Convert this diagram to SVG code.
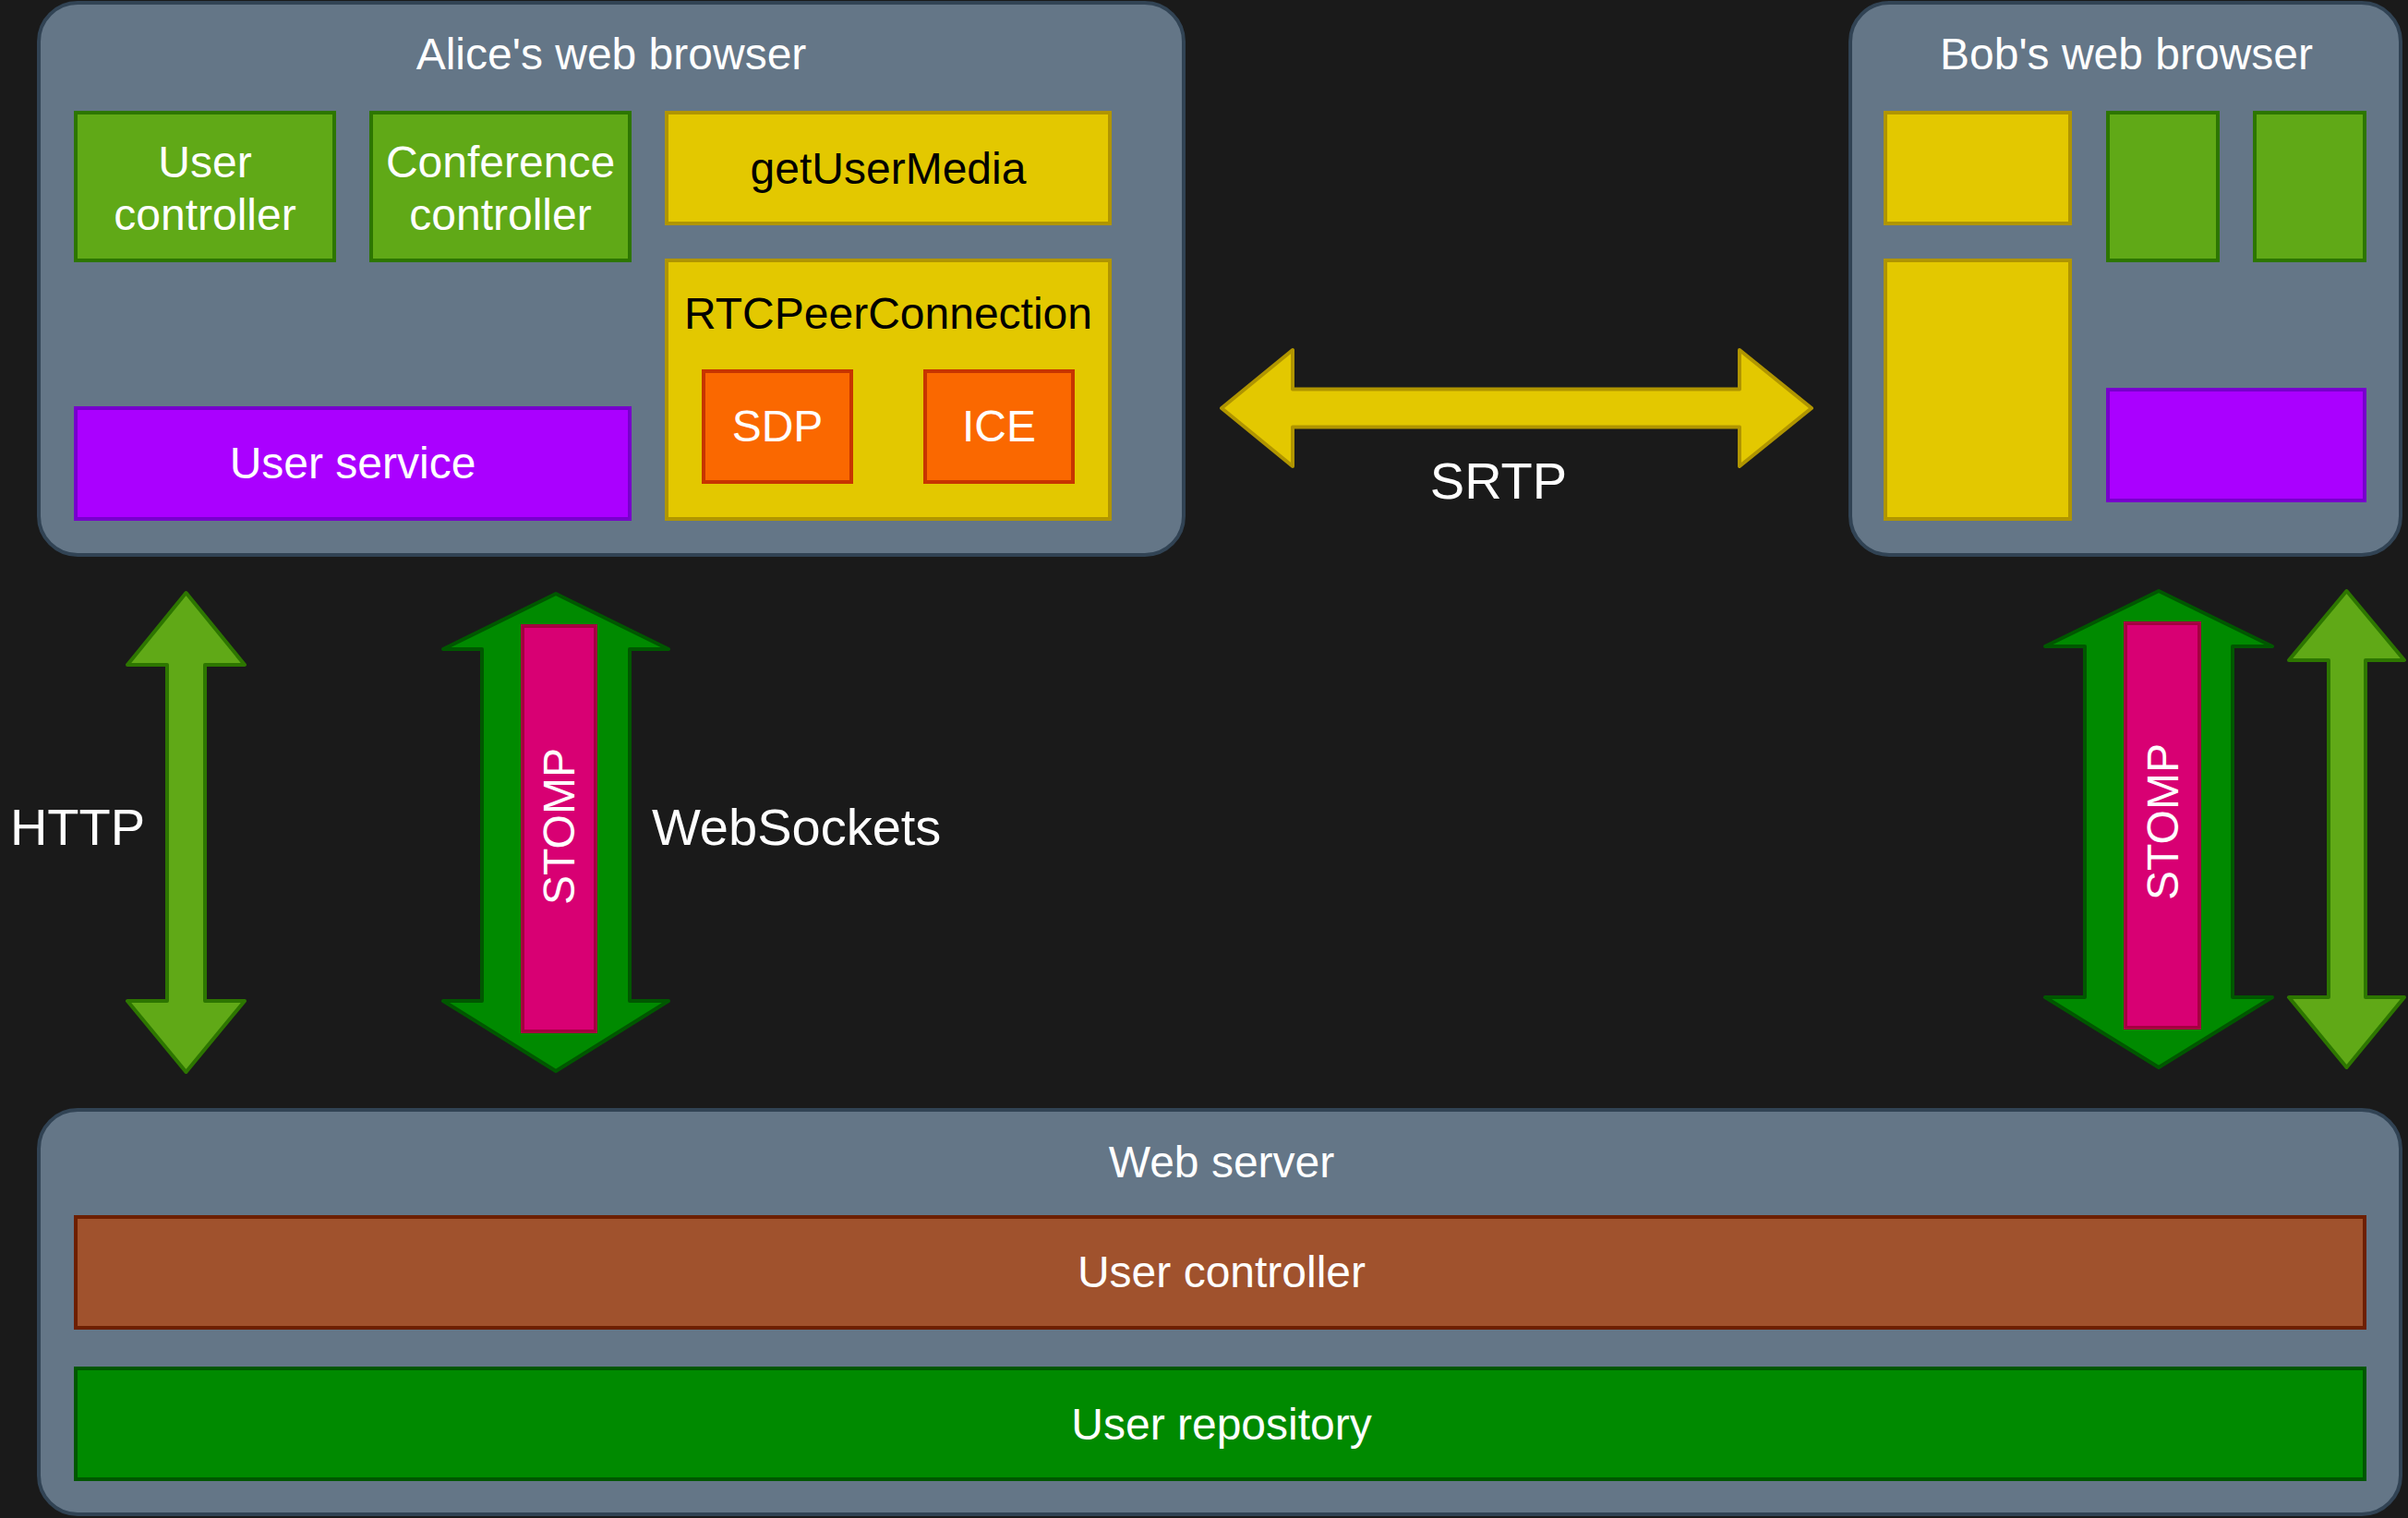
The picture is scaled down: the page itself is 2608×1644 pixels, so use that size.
<svg xmlns="http://www.w3.org/2000/svg" width="2608" height="1644" viewBox="0 0 2608 1644">
<style>
text{font-family:"Liberation Sans",Arial,Helvetica,sans-serif;font-size:48px;fill:#ffffff;text-anchor:middle}
.big{font-size:56px}
.dark{fill:#000000}
.cont{fill:#647687;stroke:#314354;stroke-width:4}
.green{fill:#60a917;stroke:#2d7600;stroke-width:4}
.yellow{fill:#e3c800;stroke:#b09500;stroke-width:4}
.orange{fill:#fa6800;stroke:#c73500;stroke-width:4}
.purple{fill:#aa00ff;stroke:#7700cc;stroke-width:4}
.brown{fill:#a0522d;stroke:#6d1f00;stroke-width:4}
.dgreen{fill:#008a00;stroke:#005700;stroke-width:4}
.pink{fill:#d80073;stroke:#a50040;stroke-width:4}
.arr{stroke-width:4;stroke-linejoin:round}
</style>
<rect width="2608" height="1644" fill="#1a1a1a"/>

<g id="connectors">
  <g id="srtp">
    <polygon class="yellow arr" points="1323,442 1400,379 1400,421.5 1884,421.5 1884,379 1962,442 1884,505 1884,462.5 1400,462.5 1400,505"/>
    <text class="big" x="1623" y="540">SRTP</text>
  </g>
  <g id="http-alice">
    <polygon class="green arr" points="201.5,642 265,720 222,720 222,1084 265,1084 201.5,1161 138,1084 181,1084 181,720 138,720"/>
    <text class="big" x="84" y="915">HTTP</text>
  </g>
  <g id="ws-alice">
    <polygon class="dgreen arr" points="602,643 724,703 682,703 682,1084 724,1084 602,1160 480,1084 522,1084 522,703 480,703"/>
    <rect class="pink" x="566" y="678" width="79" height="439"/>
    <text transform="translate(605,895) rotate(-90)" x="0" y="17" font-size="47">STOMP</text>
    <text class="big" x="706" y="915" style="text-anchor:start">WebSockets</text>
  </g>
  <g id="ws-bob">
    <polygon class="dgreen arr" points="2338,640 2461,700 2418,700 2418,1080 2461,1080 2338,1156 2215,1080 2258,1080 2258,700 2215,700"/>
    <rect class="pink" x="2302" y="675" width="80" height="438"/>
    <text transform="translate(2342,890) rotate(-90)" x="0" y="17" font-size="47">STOMP</text>
  </g>
  <g id="http-bob">
    <polygon class="green arr" points="2541.5,640 2604,715 2562,715 2562,1080 2604,1080 2541.5,1156 2479,1080 2522,1080 2522,715 2479,715"/>
  </g>
</g>

<g id="alice">
  <rect class="cont" x="42" y="3" width="1240" height="598" rx="42" ry="42"/>
  <text x="662" y="75">Alice's web browser</text>
  <g id="alice-user-controller">
    <rect class="green" x="82" y="122" width="280" height="160"/>
    <text x="222" y="192">User</text>
    <text x="222" y="249">controller</text>
  </g>
  <g id="alice-conference-controller">
    <rect class="green" x="402" y="122" width="280" height="160"/>
    <text x="542" y="192">Conference</text>
    <text x="542" y="249">controller</text>
  </g>
  <g id="alice-getusermedia">
    <rect class="yellow" x="722" y="122" width="480" height="120"/>
    <text class="dark" x="962" y="199">getUserMedia</text>
  </g>
  <g id="alice-rtc">
    <rect class="yellow" x="722" y="282" width="480" height="280"/>
    <text class="dark" x="962" y="356">RTCPeerConnection</text>
  </g>
  <g id="alice-sdp">
    <rect class="orange" x="762" y="402" width="160" height="120"/>
    <text x="842" y="478">SDP</text>
  </g>
  <g id="alice-ice">
    <rect class="orange" x="1002" y="402" width="160" height="120"/>
    <text x="1082" y="478">ICE</text>
  </g>
  <g id="alice-user-service">
    <rect class="purple" x="82" y="442" width="600" height="120"/>
    <text x="382" y="518">User service</text>
  </g>
</g>

<g id="bob">
  <rect class="cont" x="2004" y="3" width="596" height="598" rx="42" ry="42"/>
  <text x="2303" y="75">Bob's web browser</text>
  <rect id="bob-getusermedia" class="yellow" x="2042" y="122" width="200" height="120"/>
  <rect id="bob-rtc" class="yellow" x="2042" y="282" width="200" height="280"/>
  <rect id="bob-user-controller" class="green" x="2283" y="122" width="119" height="160"/>
  <rect id="bob-conference-controller" class="green" x="2442" y="122" width="119" height="160"/>
  <rect id="bob-user-service" class="purple" x="2283" y="422" width="278" height="120"/>
</g>

<g id="web-server">
  <rect class="cont" x="42" y="1202" width="2558" height="438" rx="42" ry="42"/>
  <text x="1323" y="1275">Web server</text>
  <g id="server-user-controller">
    <rect class="brown" x="82" y="1318" width="2479" height="120"/>
    <text x="1323" y="1394">User controller</text>
  </g>
  <g id="server-user-repository">
    <rect class="dgreen" x="82" y="1482" width="2479" height="120"/>
    <text x="1323" y="1559">User repository</text>
  </g>
</g>
</svg>
